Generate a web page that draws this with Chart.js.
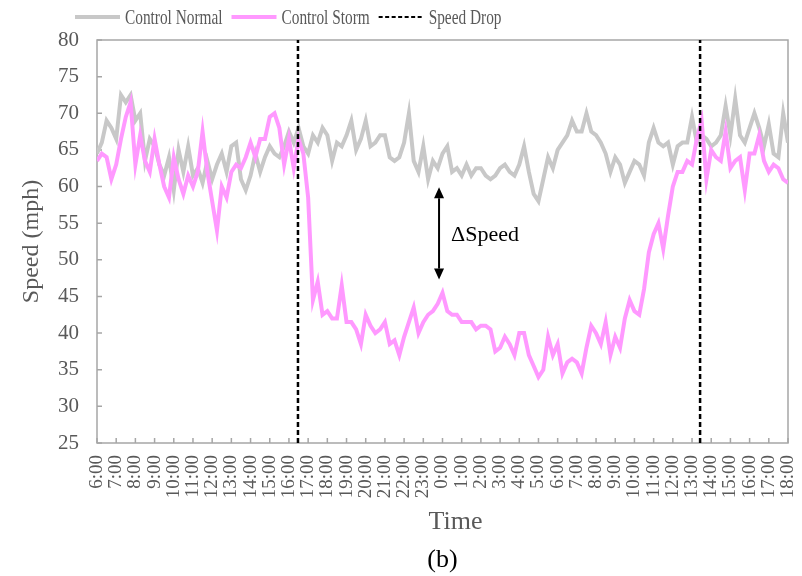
<!DOCTYPE html>
<html>
<head>
<meta charset="utf-8">
<title>Speed drop</title>
<script src="https://cdn.jsdelivr.net/npm/chart.js@4.4.1/dist/chart.umd.min.js"></script>
<style>
  body { margin: 0; background: #fff; }
  #wrap { width: 802px; height: 576px; position: relative; }
</style>
</head>
<body>
<div id="wrap"><canvas id="speedChart"></canvas></div>
<script>
// x axis: hours counted from 6:00 on day one, one reading every 15 minutes
const hourLabels = ["6:00", "7:00", "8:00", "9:00", "10:00", "11:00", "12:00", "13:00", "14:00",
  "15:00", "16:00", "17:00", "18:00", "19:00", "20:00", "21:00", "22:00", "23:00", "0:00",
  "1:00", "2:00", "3:00", "4:00", "5:00", "6:00", "7:00", "8:00", "9:00", "10:00", "11:00",
  "12:00", "13:00", "14:00", "15:00", "16:00", "17:00", "18:00"];
const stepHours = 0.25;

const normalSpeed = [
  64.5, 66, 69, 68, 66.5, 72.5, 71.5, 72.5, 69, 70, 63.5, 66.5, 65.5, 63, 61.5, 64, 59.5, 65, 62,
  65.5, 61.5, 62.5, 60.5, 63.5, 61, 63, 64.5, 62, 65.5, 66, 61, 59.5, 61.5, 64.5, 62, 64, 65.5,
  64.5, 64, 65.5, 67.5, 66, 68, 65.5, 64.5, 67, 66, 68, 67, 63.5, 66, 65.5, 67, 69, 65, 66.5, 69,
  65.5, 66, 67, 67, 64, 63.5, 64, 66, 70, 63.5, 62, 65.5, 61, 63.5, 62.5, 64.5,
  65.5, 62, 62.5, 61.5, 63, 61.5, 62.5, 62.5, 61.5, 61, 61.5, 62.5, 63, 62, 61.5, 63, 65.5, 62,
  59, 58, 61, 64, 62.5, 65, 66, 67, 69, 67.5, 67.5, 70, 67.5, 67, 66, 64.5, 62, 64,
  63, 60.5, 62, 63.5, 63, 61.5, 66, 68, 66, 65.5, 66, 63, 65.5, 66, 66, 69.5, 66, 67, 66.5, 65.5,
  66, 67, 71, 67, 72, 67, 66, 68, 70, 68, 65.5, 68.5, 64.5, 64, 70, 66];

const stormSpeed = [
  63.5, 64.5, 64, 61, 63, 66.5, 69.5, 71.5, 63, 67, 63.5, 62, 66.5, 63, 60, 58.5, 64, 61, 59,
  61.5, 60, 62, 67.5, 62, 58, 54, 60, 58.5, 62, 63, 62.5, 64, 66, 64, 66.5, 66.5, 69.5,
  70, 68, 63, 66.5, 62.5, 66.5, 64.5, 58.5, 44.5, 47, 42.5, 43, 42, 42, 46.5, 41.5, 41.5, 40.5,
  38.5, 42.5, 41, 40, 40.5, 41.5, 38.5, 39, 37, 39.5, 41.5, 43.5, 40, 41.5, 42.5, 43, 44, 45.5,
  43, 42.5, 42.5, 41.5, 41.5, 41.5, 40.5, 41, 41, 40.5, 37.5, 38, 39.5, 38.5, 37, 40, 40, 37,
  35.5, 34, 35, 39.5, 37, 38.5, 34.5, 36, 36.5, 36, 34.5, 38, 41, 40, 38.5, 41.5, 37, 39.5,
  38, 42, 44.5, 43, 42.5, 46, 51, 53.5, 55, 51.5, 56, 60, 62, 62, 63.5, 63, 66.5, 69, 61, 65,
  64, 63.5, 67.5, 62.5, 63.5, 64, 59.5, 64.5, 64.5, 67, 63.5, 62, 63, 62.5, 61, 60.5];

// speed drop markers (hours from 6:00) and the delta annotation
const dropTimes = [10.47, 31.42];
const arrowTime = 17.82;
const arrowTop = 59.9;
const arrowBottom = 47.3;

const yMin = 25, yMax = 80, yStep = 5;
const textGrey = "#595959";
const serif = "'Liberation Serif', 'Times New Roman', serif";

const toPoints = arr => arr.map((v, i) => ({ x: i * stepHours, y: v }));

const normalSet = {
  label: "Control Normal",
  data: toPoints(normalSpeed),
  borderColor: "#c8c8c8",
  borderWidth: 4,
  pointRadius: 0,
  tension: 0
};
const stormSet = {
  label: "Control Storm",
  data: toPoints(stormSpeed),
  borderColor: "#ff99ff",
  borderWidth: 4,
  pointRadius: 0,
  tension: 0
};
const dropSet = {
  label: "Speed Drop",
  data: dropTimes.flatMap(t => [{ x: t, y: yMin }, { x: t, y: yMax }, { x: t, y: null }]),
  borderColor: "#000",
  borderWidth: 2.5,
  borderDash: [5, 3],
  pointRadius: 0,
  spanGaps: false
};

// box round the plot and small inward ticks
const framePlugin = {
  id: "frame",
  beforeDatasetsDraw(chart) {
    const { ctx, chartArea: a, scales: { x, y } } = chart;
    ctx.save();
    ctx.strokeStyle = "#a6a6a6";
    ctx.lineWidth = 1.5;
    ctx.strokeRect(a.left, a.top, a.right - a.left, a.bottom - a.top);
    ctx.beginPath();
    hourLabels.forEach((_, i) => {
      const px = x.getPixelForValue(i);
      ctx.moveTo(px, a.bottom);
      ctx.lineTo(px, a.bottom - 5);
    });
    y.ticks.forEach(t => {
      const py = y.getPixelForValue(t.value);
      ctx.moveTo(a.left, py);
      ctx.lineTo(a.left + 5, py);
    });
    ctx.stroke();
    ctx.restore();
  }
};

// double arrow with the ΔSpeed label
const arrowPlugin = {
  id: "deltaArrow",
  afterDatasetsDraw(chart) {
    const { ctx, scales: { x, y } } = chart;
    const px = x.getPixelForValue(arrowTime);
    const top = y.getPixelForValue(arrowTop);
    const bottom = y.getPixelForValue(arrowBottom);
    const head = 11, half = 5;
    ctx.save();
    ctx.strokeStyle = "#000";
    ctx.fillStyle = "#000";
    ctx.lineWidth = 2;
    ctx.beginPath();
    ctx.moveTo(px, top + head);
    ctx.lineTo(px, bottom - head);
    ctx.stroke();
    ctx.beginPath();
    ctx.moveTo(px, top);
    ctx.lineTo(px - half, top + head);
    ctx.lineTo(px + half, top + head);
    ctx.closePath();
    ctx.moveTo(px, bottom);
    ctx.lineTo(px - half, bottom - head);
    ctx.lineTo(px + half, bottom - head);
    ctx.closePath();
    ctx.fill();
    ctx.font = "22px " + serif;
    ctx.textBaseline = "middle";
    ctx.fillText("\u0394Speed", px + 12, (top + bottom) / 2 + 2);
    ctx.restore();
  }
};

// legend on the top left, text a little condensed like the original
const legendPlugin = {
  id: "topLegend",
  afterDraw(chart) {
    const ctx = chart.ctx;
    const items = [normalSet, stormSet, dropSet];
    const squeeze = 0.73;
    const cy = 17;
    let cx = 75;
    ctx.save();
    ctx.font = "21px " + serif;
    ctx.textBaseline = "middle";
    ctx.fillStyle = textGrey;
    items.forEach(ds => {
      ctx.strokeStyle = ds.borderColor;
      ctx.lineWidth = ds.borderDash ? 2 : ds.borderWidth;
      ctx.setLineDash(ds.borderDash ? [4, 2.5] : []);
      ctx.beginPath();
      ctx.moveTo(cx, cy);
      ctx.lineTo(cx + 45, cy);
      ctx.stroke();
      cx += 50;
      const w = ctx.measureText(ds.label).width * squeeze;
      ctx.save();
      ctx.translate(cx, cy + 1);
      ctx.scale(squeeze, 1);
      ctx.fillText(ds.label, 0, 0);
      ctx.restore();
      cx += w + 9;
    });
    ctx.restore();
  }
};

new Chart(document.getElementById("speedChart"), {
  type: "line",
  data: { datasets: [dropSet, stormSet, normalSet] },
  plugins: [framePlugin, arrowPlugin, legendPlugin],
  options: {
    responsive: true,
    maintainAspectRatio: false,
    animation: false,
    layout: { padding: { top: 40, right: 14, bottom: 0, left: 0 } },
    plugins: {
      legend: { display: false },
      tooltip: { enabled: false },
      title: {
        display: true,
        position: "bottom",
        fullSize: false,
        text: "(b)",
        color: "#000",
        font: { family: serif, size: 26, weight: "normal" },
        padding: 0
      }
    },
    scales: {
      x: {
        type: "linear",
        min: 0,
        max: hourLabels.length - 1,
        grid: { display: false, drawTicks: false },
        border: { display: false },
        afterFit: s => { s.height = 101.8; s.paddingLeft = 0; s.paddingRight = 0; },
        ticks: {
          stepSize: 1,
          autoSkip: false,
          maxRotation: 90,
          minRotation: 90,
          padding: 12,
          color: textGrey,
          font: { family: serif, size: 19 },
          callback: v => hourLabels[v] ?? ""
        },
        title: {
          display: true,
          text: "\u2003Time",
          color: textGrey,
          font: { family: serif, size: 26 },
          padding: { top: 0, bottom: 7 }
        }
      },
      y: {
        min: yMin,
        max: yMax,
        grid: { display: false, drawTicks: false },
        border: { display: false },
        afterFit: s => { s.width = 97; },
        ticks: {
          stepSize: yStep,
          padding: 18,
          color: textGrey,
          font: { family: serif, size: 21 }
        },
        title: {
          display: true,
          text: "Speed (mph)",
          color: textGrey,
          font: { family: serif, size: 24 },
          padding: { top: 17, bottom: 0 }
        }
      }
    }
  }
});
</script>
</body>
</html>
